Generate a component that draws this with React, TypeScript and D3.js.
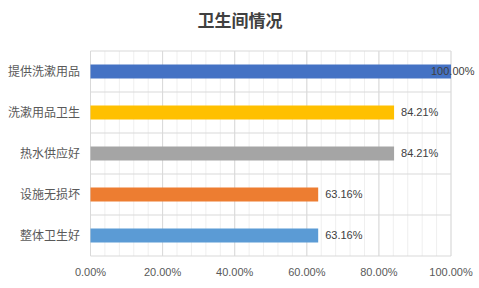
import React from "react";
import * as d3 from "d3";

const categories = ["提供洗漱用品", "洗漱用品卫生", "热水供应好", "设施无损坏", "整体卫生好"];
const values = [1.0, 0.8421, 0.8421, 0.6316, 0.6316];
const colors = ["#4472C4", "#FFC000", "#A5A5A5", "#ED7D31", "#5B9BD5"];
const ticks = [0, 0.2, 0.4, 0.6, 0.8, 1.0];
const title = "卫生间情况";

export default function App() {
  const W = 479, H = 288;
  const left = 90.5, right = 451, top = 51, bottom = 256;
  const x = d3.scaleLinear().domain([0, 1]).range([left, right]);
  const y = d3.scaleBand().domain(categories).range([top, bottom]).paddingInner(0).paddingOuter(0);
  const barH = 14;
  const minor = d3.range(0, 1.0001, 0.04);
  const fmt = (v: number) => (v * 100).toFixed(2) + "%";
  const font = "'Microsoft YaHei', 'Noto Sans CJK SC', 'DejaVu Sans', sans-serif";
  return (
    <svg width={W} height={H} style={{ position: "absolute", left: 0, top: 0, background: "#fff" }}>
      <rect x={0} y={0} width={W} height={H} fill="#fff" />
      <text x={240} y={27} textAnchor="middle" fontSize={17} fontWeight="bold" fill="#404040"
        fontFamily="'Noto Sans CJK SC', sans-serif">{title}</text>
      {minor.map((t, i) => (
        <line key={"m" + i} x1={x(t)} x2={x(t)} y1={top} y2={bottom} stroke="#efefef" strokeWidth={1} />
      ))}
      {ticks.map((t, i) => (
        <line key={"M" + i} x1={x(t)} x2={x(t)} y1={top} y2={bottom} stroke="#d9d9d9" strokeWidth={1} />
      ))}
      {categories.map((c, i) => (
        <line key={"h" + i} x1={left} x2={right} y1={y(c)!} y2={y(c)!} stroke="#d9d9d9" strokeWidth={1} />
      ))}
      <line x1={left} x2={right} y1={bottom} y2={bottom} stroke="#d9d9d9" strokeWidth={1} />
      {categories.map((c, i) => {
        const cy = y(c)! + y.bandwidth() / 2;
        return (
          <g key={"b" + i}>
            <rect x={x(0)} y={cy - barH / 2} width={x(values[i]) - x(0)} height={barH} fill={colors[i]} />
            <text x={80} y={cy} dy="0.35em" textAnchor="end" fontSize={12} fill="#595959" fontFamily={font}>{c}</text>
            <text x={Math.min(x(values[i]) + 7, 431)} y={cy} dy="0.35em" textAnchor="start" fontSize={11} fill="#404040"
              fontFamily="'Liberation Sans', 'DejaVu Sans', sans-serif">{fmt(values[i])}</text>
          </g>
        );
      })}
      {ticks.map((t, i) => (
        <text key={"t" + i} x={x(t)} y={272} dy="0.35em" textAnchor="middle" fontSize={11} fill="#595959"
          fontFamily="'Liberation Sans', 'DejaVu Sans', sans-serif">{fmt(t)}</text>
      ))}
    </svg>
  );
}
